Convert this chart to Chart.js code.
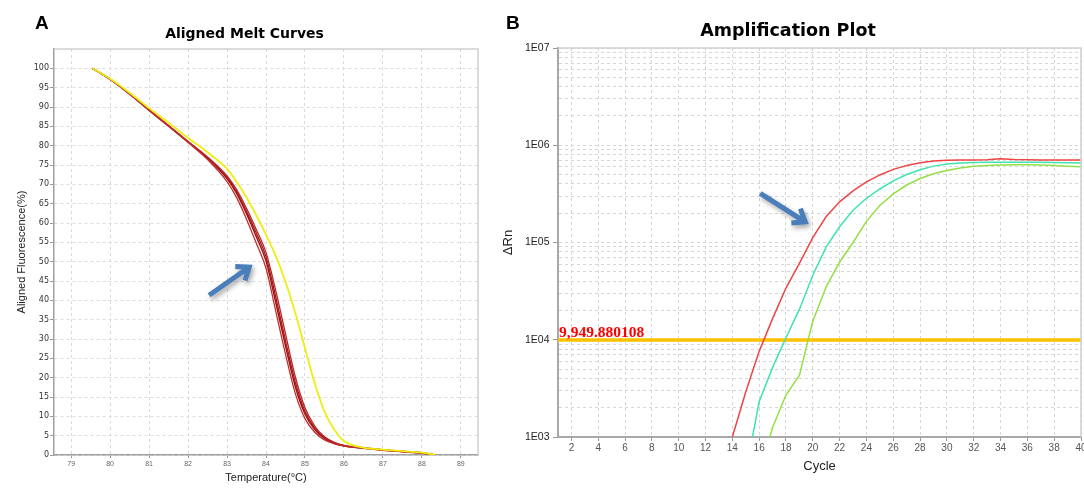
<!DOCTYPE html>
<html>
<head>
<meta charset="utf-8">
<script src="https://cdn.jsdelivr.net/npm/chart.js@4.4.1/dist/chart.umd.min.js"></script>
<style>
html, body { margin: 0; padding: 0; background: #fff; }
body { width: 1084px; height: 488px; position: relative; overflow: hidden; }
.panel { position: absolute; top: 0; height: 488px; }
#boxA { left: 0; width: 490px; }
#boxB { left: 490px; width: 594px; }
.tag { position: absolute; font: bold 19px "Liberation Sans", Arial, sans-serif; line-height: 19px; color: #000; }
</style>
</head>
<body>
<div class="panel" id="boxA"><canvas id="meltChart"></canvas></div>
<div class="panel" id="boxB"><canvas id="ampChart"></canvas></div>
<div class="tag" style="left:35px;top:13px">A</div>
<div class="tag" style="left:506px;top:13px">B</div>
<script>
// ---- A: aligned melt curves ----
const meltTemps = [79.55, 80.0, 80.5, 81.0, 81.5, 82.0, 82.5, 83.0, 83.25, 83.5, 83.75, 84.0, 84.25, 84.5, 84.75, 85.0, 85.25, 85.5, 85.75, 86.0, 86.5, 87.0, 87.5, 88.0, 88.35];
const meltRed1 = [100, 97.2, 93.4, 89.2, 85.1, 81.0, 76.8, 71.5, 67.6, 62.4, 56.5, 50.2, 39.5, 28.3, 17.8, 10.6, 6.6, 4.3, 3.1, 2.4, 1.8, 1.3, 0.9, 0.5, 0.0];
const meltRed2 = [100, 97.2, 93.4, 89.3, 85.2, 81.1, 77.1, 72.2, 68.6, 63.8, 58.3, 52.4, 42.5, 31.4, 20.3, 12.2, 7.5, 4.7, 3.3, 2.5, 1.9, 1.4, 1.0, 0.6, 0.0];
const meltRed3 = [100, 97.1, 93.3, 89.1, 85.0, 80.8, 76.4, 70.7, 66.5, 61.0, 54.8, 48.3, 37.2, 26.1, 16.0, 9.4, 5.9, 3.9, 2.9, 2.3, 1.7, 1.2, 0.8, 0.4, 0.0];
const meltRed4 = [100, 97.2, 93.4, 89.2, 85.1, 81.0, 76.9, 71.9, 68.1, 63.0, 57.4, 51.3, 40.9, 29.6, 18.9, 11.3, 7.0, 4.5, 3.2, 2.4, 1.8, 1.3, 0.9, 0.5, 0.0];
const meltYellow = [100, 97.3, 93.7, 89.7, 85.9, 82.0, 78.3, 74.0, 70.6, 66.6, 62.0, 57.0, 51.5, 44.8, 36.8, 27.6, 18.6, 11.2, 6.6, 3.6, 1.9, 1.4, 1.0, 0.6, 0.0];
const meltXTicks = [79, 80, 81, 82, 83, 84, 85, 86, 87, 88, 89];
const meltYTicks = [0, 5, 10, 15, 20, 25, 30, 35, 40, 45, 50, 55, 60, 65, 70, 75, 80, 85, 90, 95, 100];
const meltArrow = [[82.54, 41.3], [83.57, 48.6]];

// ---- B: amplification plot ----
const ampCycles = [14, 15, 16, 17, 18, 19, 20, 21, 22, 23, 24, 25, 26, 27, 28, 29, 30, 31, 32, 33, 34, 35, 36, 37, 38, 39, 40];
const ampRed = [1000, 2900, 7600, 16500, 34000, 61000, 112000, 185000, 262000, 340000, 420000, 495000, 565000, 620000, 660000, 688000, 700000, 704000, 705000, 710000, 725000, 712000, 708000, 706000, 705000, 705000, 705000];
const ampCyan = [200, 430, 2300, 5200, 10500, 20500, 46000, 90000, 145000, 215000, 285000, 355000, 430000, 500000, 560000, 610000, 640000, 655000, 665000, 668000, 670000, 670000, 670000, 668000, 665000, 660000, 655000];
const ampGreen = [80, 160, 400, 1250, 2700, 4300, 15500, 35000, 63000, 100000, 165000, 240000, 316000, 390000, 455000, 510000, 550000, 585000, 608000, 620000, 628000, 630000, 630000, 625000, 618000, 610000, 600000];
const ampThreshold = 9949.880108;
const ampThresholdLabel = '9,949.880108';
const ampXTicks = [2, 4, 6, 8, 10, 12, 14, 16, 18, 20, 22, 24, 26, 28, 30, 32, 34, 36, 38, 40];
const ampDecades = [1e3, 1e4, 1e5, 1e6, 1e7];
const ampDecadeLabels = ['1E03', '1E04', '1E05', '1E06', '1E07'];
const ampArrow = [[16.08, 320000], [19.44, 163000]];

const pts = (xs, ys) => xs.map((x, i) => ({ x: x, y: ys[i] }));

function drawArrow(ctx, x0, y0, x1, y1) {
    const ang = Math.atan2(y1 - y0, x1 - x0);
    const head = 14;
    ctx.save();
    ctx.strokeStyle = '#4a7ebb';
    ctx.lineWidth = 5;
    ctx.lineJoin = 'miter';
    ctx.shadowColor = 'rgba(0,0,0,0.35)';
    ctx.shadowBlur = 5;
    ctx.shadowOffsetX = 2;
    ctx.shadowOffsetY = 3;
    ctx.beginPath();
    ctx.moveTo(x0, y0);
    ctx.lineTo(x1 - 2 * Math.cos(ang), y1 - 2 * Math.sin(ang));
    ctx.moveTo(x1 - head * Math.cos(ang - 0.65), y1 - head * Math.sin(ang - 0.65));
    ctx.lineTo(x1, y1);
    ctx.lineTo(x1 - head * Math.cos(ang + 0.65), y1 - head * Math.sin(ang + 0.65));
    ctx.stroke();
    ctx.restore();
}

function frameAndTitle(title, font, tx, ty) {
    return {
        id: 'frameAndTitle',
        afterDatasetsDraw(chart) {
            const { ctx, chartArea: a } = chart;
            ctx.save();
            ctx.strokeStyle = '#cfcfcf';
            ctx.lineWidth = 1.5;
            ctx.beginPath();
            ctx.moveTo(a.left, a.top);
            ctx.lineTo(a.right, a.top);
            ctx.lineTo(a.right, a.bottom);
            ctx.stroke();
            ctx.fillStyle = '#000';
            ctx.font = font;
            ctx.textAlign = 'center';
            ctx.textBaseline = 'middle';
            ctx.fillText(title, tx, ty);
            ctx.restore();
        }
    };
}

const gridDash = [3, 3];

// ---------- chart A ----------
new Chart(document.getElementById('meltChart').getContext('2d'), {
    type: 'line',
    data: {
        datasets: [
            { data: pts(meltTemps, meltYellow), borderColor: '#eeee10', borderWidth: 1.8 },
            { data: pts(meltTemps, meltRed3), borderColor: '#c03030', borderWidth: 1.3 },
            { data: pts(meltTemps, meltRed2), borderColor: '#b82828', borderWidth: 1.3 },
            { data: pts(meltTemps, meltRed4), borderColor: '#a51818', borderWidth: 1.3 },
            { data: pts(meltTemps, meltRed1), borderColor: '#9e1414', borderWidth: 1.5 }
        ]
    },
    options: {
        responsive: true,
        maintainAspectRatio: false,
        animation: false,
        layout: { padding: { left: 0, right: 12, top: 49, bottom: 0 } },
        elements: { point: { radius: 0 }, line: { cubicInterpolationMode: 'monotone' } },
        plugins: { legend: { display: false }, tooltip: { enabled: false }, title: { display: false } },
        scales: {
            x: {
                type: 'linear', min: 78.56, max: 89.44,
                afterBuildTicks: s => { s.ticks = meltXTicks.map(v => ({ value: v })); },
                afterFit: s => { s.height = 33; },
                grid: { color: '#dadada', tickLength: 3, tickColor: '#999', tickBorderDash: [] },
                border: { color: '#a0a0a0', width: 1.5, dash: gridDash },
                ticks: { color: '#666', autoSkip: false, maxRotation: 0, padding: 1.5,
                    font: { family: '"Liberation Sans Narrow", "Liberation Sans", sans-serif', size: 7 } },
                title: { display: true, text: 'Temperature(°C)', color: '#222',
                    font: { family: '"Liberation Sans", Arial, sans-serif', size: 11 }, padding: { top: 0, bottom: 3.4 } }
            },
            y: {
                type: 'linear', min: 0, max: 105,
                afterBuildTicks: s => { s.ticks = meltYTicks.map(v => ({ value: v })); },
                afterFit: s => { s.width = 54; },
                grid: { color: '#dadada', tickLength: 4, tickColor: '#999', tickBorderDash: [] },
                border: { color: '#a0a0a0', width: 1.5, dash: gridDash },
                ticks: { color: '#333', autoSkip: false, padding: 1,
                    font: { family: '"DejaVu Sans", sans-serif', size: 8 } },
                title: { display: true, text: 'Aligned Fluorescence(%)', color: '#222',
                    font: { family: '"Liberation Sans", Arial, sans-serif', size: 11 }, padding: { top: 15.1, bottom: 0 } }
            }
        }
    },
    plugins: [
        frameAndTitle('Aligned Melt Curves', 'bold 14px "DejaVu Sans", sans-serif', 244.5, 34),
        {
            id: 'arrowA',
            afterDatasetsDraw(chart) {
                const sx = chart.scales.x, sy = chart.scales.y;
                drawArrow(chart.ctx,
                    sx.getPixelForValue(meltArrow[0][0]), sy.getPixelForValue(meltArrow[0][1]),
                    sx.getPixelForValue(meltArrow[1][0]), sy.getPixelForValue(meltArrow[1][1]));
            }
        }
    ]
});

// ---------- chart B ----------
const ampGridTicks = [];
ampDecades.forEach((d, i) => {
    const steps = i < ampDecades.length - 1 ? 9 : 1;
    for (let k = 1; k <= steps; k++) ampGridTicks.push(d * k);
});

new Chart(document.getElementById('ampChart').getContext('2d'), {
    type: 'line',
    data: {
        datasets: [
            { data: pts(ampCycles, ampRed), borderColor: '#ee4444', borderWidth: 1.5 },
            { data: pts(ampCycles, ampCyan), borderColor: '#3ee3b0', borderWidth: 1.5 },
            { data: pts(ampCycles, ampGreen), borderColor: '#92e044', borderWidth: 1.5 },
            { data: [{ x: 1, y: ampThreshold }, { x: 40, y: ampThreshold }], borderColor: '#ffc000', borderWidth: 3.5 }
        ]
    },
    options: {
        responsive: true,
        maintainAspectRatio: false,
        animation: false,
        layout: { padding: { left: 0, right: 3, top: 48, bottom: 0 } },
        elements: { point: { radius: 0 }, line: { tension: 0 } },
        plugins: { legend: { display: false }, tooltip: { enabled: false }, title: { display: false } },
        scales: {
            x: {
                type: 'linear', min: 1, max: 40,
                afterBuildTicks: s => { s.ticks = ampXTicks.map(v => ({ value: v })); },
                afterFit: s => { s.height = 51; s.paddingLeft = 0; s.paddingRight = 0; },
                grid: { color: '#d6d6d6', tickLength: 4, tickColor: '#999', tickBorderDash: [] },
                border: { color: '#a8a8a8', width: 2, dash: gridDash },
                ticks: { color: '#555', autoSkip: false, maxRotation: 0, padding: 1.5,
                    font: { family: '"Liberation Sans", Arial, sans-serif', size: 10 } },
                title: { display: true, text: 'Cycle', color: '#222',
                    font: { family: '"Liberation Sans", Arial, sans-serif', size: 13 }, padding: { top: 0, bottom: 14.2 } }
            },
            y: {
                type: 'logarithmic', min: 1000, max: 1e7,
                afterBuildTicks: s => { s.ticks = ampGridTicks.map(v => ({ value: v, major: ampDecades.includes(v) })); },
                afterFit: s => { s.width = 68; },
                grid: {
                    color: '#d6d6d6', tickLength: 5, tickBorderDash: [],
                    tickColor: c => (c.tick && ampDecades.includes(c.tick.value)) ? '#999' : 'rgba(0,0,0,0)'
                },
                border: { color: '#a8a8a8', width: 2, dash: gridDash },
                ticks: {
                    color: '#222', autoSkip: false, padding: 3.5,
                    font: { family: '"Liberation Sans", Arial, sans-serif', size: 10.5 },
                    callback: v => {
                        const i = ampDecades.indexOf(v);
                        return i >= 0 ? ampDecadeLabels[i] : '';
                    }
                },
                title: { display: true, text: 'ΔRn', color: '#222',
                    font: { family: '"Liberation Sans", Arial, sans-serif', size: 13 }, padding: { top: 10.2, bottom: 0 } }
            }
        }
    },
    plugins: [
        frameAndTitle('Amplification Plot', 'bold 17.5px "DejaVu Sans", sans-serif', 298, 31),
        {
            id: 'thresholdAndArrow',
            afterDatasetsDraw(chart) {
                const { ctx, chartArea: a } = chart;
                const sx = chart.scales.x, sy = chart.scales.y;
                ctx.save();
                ctx.fillStyle = '#ff0000';
                ctx.font = 'bold 15.5px "Liberation Serif", "DejaVu Serif", serif';
                ctx.textAlign = 'left';
                ctx.textBaseline = 'alphabetic';
                ctx.fillText(ampThresholdLabel, a.left + 1, sy.getPixelForValue(ampThreshold) - 3);
                ctx.restore();
                drawArrow(ctx,
                    sx.getPixelForValue(ampArrow[0][0]), sy.getPixelForValue(ampArrow[0][1]),
                    sx.getPixelForValue(ampArrow[1][0]), sy.getPixelForValue(ampArrow[1][1]));
            }
        }
    ]
});
</script>
</body>
</html>
